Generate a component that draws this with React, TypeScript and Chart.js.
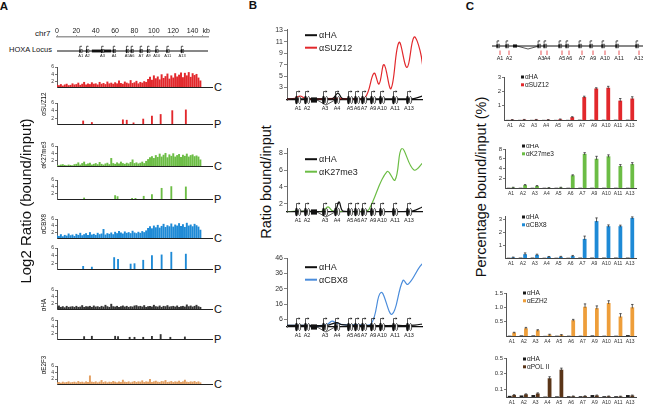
import React, { useEffect, useRef } from "react";
import { Chart, registerables } from "chart.js";
Chart.register(...registerables);

const FONT = "'Liberation Sans', Arial, Helvetica, sans-serif";

// ================= Panel A data =================
const rulerTicks = [0, 20, 40, 60, 80, 100, 120, 140, 150];
const geneNames = ["A1", "A2", "A3", "A4", "A5", "A6", "A7", "A9", "A10", "A11", "A13"];
const locusKb = [24.5, 31.4, 47, 59, 72.6, 77.5, 86.8, 94.4, 103, 114.4, 129.3];
const locusBlockKb = [[36, 56]];
const trackTicks = [2, 4, 6];
const binKb = 2; // ChIP-chip bins, one value every 2 kb from 0 kb

const suz12C = [
  1.0, 0.9, 1.2, 0.8, 1.1, 1.3, 0.9, 1.0, 1.4, 1.1,
  1.2, 1.6, 1.0, 1.3, 1.8, 1.1, 1.4, 1.2, 1.7, 1.3,
  1.4, 1.1, 1.8, 1.3, 1.5, 1.2, 1.9, 1.4, 1.6, 1.3,
  1.7, 1.4, 2.2, 1.5, 1.3, 1.9, 1.6, 1.4, 2.3, 1.5,
  1.7, 2.1, 1.4, 1.8, 1.6, 2.0, 1.8, 2.6, 3.2, 2.4,
  3.6, 2.8, 3.3, 2.5, 3.9, 2.9, 3.4, 4.1, 2.7, 3.6,
  3.0, 4.2, 3.3, 3.8, 4.4, 3.1, 4.3, 3.6, 4.5, 3.2,
  4.2, 3.7, 4.0, 3.0, 2.2,
];
const k27C = [
  0.7, 0.6, 0.8, 0.9, 0.7, 0.6, 0.8, 0.7, 0.6, 0.9,
  1.0, 1.4, 0.8, 1.2, 1.6, 0.9, 1.1, 1.3, 0.8, 1.0,
  1.2, 0.9, 1.5, 1.0, 0.8, 1.1, 1.3, 0.9, 2.6, 1.2,
  1.0, 1.4, 1.1, 1.6, 1.2, 1.0, 1.3, 1.1, 1.5, 2.2,
  1.2, 1.4, 1.1, 1.3, 1.6, 1.2, 1.8, 2.3, 2.8, 3.1,
  2.6, 3.4, 2.9, 3.8, 3.0, 3.5, 4.0, 2.8, 3.6, 3.2,
  3.9, 3.0, 3.4, 3.7, 2.9, 3.5, 3.2, 3.8, 3.0, 3.4,
  3.6, 3.1, 3.3, 3.0, 2.2,
];
const cbx8C = [
  1.2, 1.0, 1.5, 0.9, 1.3, 1.1, 1.7, 1.2, 1.4, 1.0,
  1.6, 1.3, 1.9, 1.2, 1.5, 1.8, 1.3, 2.1, 1.4, 1.6,
  1.3, 1.9, 1.5, 1.7, 3.0, 1.4, 1.8, 1.6, 2.0, 1.5,
  2.2, 1.8, 2.4, 2.0, 1.7, 2.3, 1.9, 2.1, 1.8, 2.5,
  2.0, 1.8, 2.2, 1.9, 2.4, 2.1, 2.6, 3.3, 3.8, 3.2,
  4.0, 3.5, 4.2, 3.4, 3.9, 4.5, 3.6, 4.1, 3.8, 4.6,
  3.7, 4.3, 4.0, 4.7, 3.9, 4.4, 3.6, 4.8, 4.0, 4.3,
  3.8, 4.5, 4.1, 3.7, 2.8,
];
const haC = [
  1.1, 1.4, 1.0, 1.2, 0.9, 1.3, 1.0, 1.1, 1.2, 1.0,
  1.3, 1.0, 1.1, 1.5, 1.0, 1.2, 1.1, 1.3, 1.0, 1.4,
  1.1, 1.2, 1.0, 1.3, 1.1, 1.6, 1.2, 1.0, 1.9, 1.2,
  1.1, 1.3, 1.0, 1.2, 1.4, 1.1, 1.3, 1.0, 1.2, 1.1,
  1.4, 1.5, 1.2, 1.3, 1.1, 1.5, 1.0, 1.2, 1.3, 1.1,
  1.6, 1.2, 1.1, 1.4, 1.0, 1.3, 1.2, 1.5, 1.1, 1.2,
  1.3, 1.1, 1.4, 1.0, 1.2, 1.3, 1.1, 1.7, 1.2, 1.4,
  1.1, 1.3, 1.6, 1.2, 1.0,
];
const e2f3C = [
  0.9, 1.0, 0.8, 1.1, 0.9, 1.0, 1.2, 0.9, 1.0, 1.1,
  0.9, 1.3, 1.0, 1.1, 0.9, 1.2, 1.0, 3.0, 1.1, 1.0,
  1.2, 0.9, 1.1, 1.6, 1.0, 1.2, 0.9, 1.1, 1.0, 1.3,
  1.1, 0.9, 1.2, 1.0, 1.7, 1.1, 1.0, 1.2, 0.9, 1.1,
  1.3, 1.0, 1.2, 1.1, 1.5, 1.0, 1.2, 1.1, 1.9, 1.0,
  1.2, 1.4, 1.1, 1.0, 1.3, 1.2, 1.6, 1.0, 1.1, 1.3,
  1.0, 1.2, 1.1, 1.4, 1.0, 1.2, 1.7, 1.1, 1.0, 1.2,
  1.1, 1.3, 1.0, 1.2, 0.9,
];
const suz12PKb = [27, 36, 68, 72, 79, 89, 98, 107, 119, 133];
const suz12PVal = [1.3, 0.9, 1.6, 1.5, 0.8, 1.8, 2.6, 3.0, 4.0, 4.2];
const k27PKb = [28, 60, 62.5, 77.5, 81, 89.5, 98, 108, 118, 133];
const k27PVal = [0.8, 1.5, 1.2, 0.7, 0.7, 1.3, 1.8, 3.6, 4.1, 4.0];
const cbx8PKb = [27, 36, 59, 63, 76, 80, 89, 98, 108, 118, 133];
const cbx8PVal = [1.2, 1.0, 3.5, 3.0, 1.8, 1.9, 2.8, 4.0, 4.2, 4.9, 4.4];
const haPKb = [28, 36, 60, 63, 75, 80, 89, 98, 107, 117, 132];
const haPVal = [1.2, 1.3, 1.3, 1.2, 1.0, 1.0, 1.0, 1.3, 1.8, 1.0, 1.1];

// ================= Panel B data =================
const bGenePos = [11, 20, 38, 50, 63, 70, 77, 86, 95, 108, 122];
const bA3Block = [[24, 30]];
const bA3Intron = [[30, 48]];
const b1Ticks = [3, 5, 7, 9, 11, 13];
const b2Ticks = [2, 4, 6, 8];
const b3Ticks = [6, 16, 26, 36, 46];
const suzBX = [0, 8, 13, 18, 30, 50, 65, 78, 87, 92, 97, 104, 112, 120, 127, 133, 137];
const suzBY = [1.0, 1.1, 1.5, 1.1, 1.0, 1.1, 1.0, 1.2, 5.5, 3.6, 7.0, 2.8, 10.9, 6.5, 11.8, 9.5, 5.0];
const haB1X = [0, 20, 40, 46, 51, 55, 62, 90, 120, 128, 137];
const haB1Y = [1.0, 1.0, 1.0, 1.1, 2.0, 1.1, 1.0, 1.0, 1.0, 1.1, 1.6];
const k27BX = [0, 10, 30, 36, 41, 46, 60, 78, 82, 100, 108, 115, 127, 137];
const k27BY = [1.0, 1.1, 1.0, 1.1, 1.6, 1.1, 1.0, 1.1, 1.3, 5.8, 4.8, 8.6, 6.0, 7.0];
const haB2X = [0, 20, 40, 48, 52, 56, 70, 100, 125, 137];
const haB2Y = [1.0, 1.1, 1.0, 1.1, 2.2, 1.1, 1.0, 1.0, 1.1, 1.7];
const cbxBX = [0, 20, 35, 41, 45, 50, 56, 70, 84, 94, 105, 116, 121, 133, 138];
const cbxBY = [2.0, 2.0, 2.0, 3.0, 4.8, 3.5, 2.5, 2.5, 2.8, 23.6, 9.3, 31.5, 28.9, 40.6, 44.0];
const haB3X = [0, 20, 40, 45, 50, 55, 70, 110, 128, 137];
const haB3Y = [2.0, 2.0, 2.0, 3.0, 3.8, 2.5, 2.0, 2.0, 2.2, 3.2];

// ================= Panel C data =================
const cGenePos = [8, 17, 49, 55, 70, 77, 90, 101, 113, 127, 147];
const cA3Block = [[21, 25]];
const cA3Intron = [[25, 47]];
const c1Ticks = [1, 2, 3];
const c2Ticks = [2, 4, 6, 8];
const c3Ticks = [1, 2, 3];
const c4Ticks = [0.5, 1, 1.5];
const c5Ticks = [0.1, 0.3, 0.5];
const suz12Pct = [0.02, 0.03, 0.03, 0.02, 0.05, 0.2, 1.6, 2.2, 2.25, 1.35, 1.5];
const suz12Err = [0.01, 0.01, 0.01, 0.01, 0.02, 0.03, 0.06, 0.05, 0.1, 0.15, 0.12];
const haSuz12 = [0.01, 0.01, 0.01, 0.01, 0.01, 0.01, 0.02, 0.02, 0.02, 0.02, 0.02];
const k27Pct = [0.1, 0.6, 0.4, 0.05, 0.1, 2.6, 7.0, 6.0, 6.5, 4.5, 4.9];
const k27Err = [0.05, 0.1, 0.1, 0.02, 0.05, 0.1, 0.25, 0.5, 0.3, 0.3, 0.3];
const haK27 = [0.05, 0.05, 0.05, 0.05, 0.05, 0.05, 0.05, 0.05, 0.05, 0.05, 0.05];
const cbx8Pct = [0.05, 0.3, 0.25, 0.1, 0.1, 0.15, 1.5, 2.9, 2.5, 2.5, 3.15];
const cbx8Err = [0.02, 0.1, 0.05, 0.02, 0.03, 0.05, 0.22, 0.25, 0.1, 0.08, 0.08];
const haCbx8 = [0.02, 0.03, 0.03, 0.02, 0.02, 0.02, 0.03, 0.03, 0.03, 0.03, 0.03];
const ezh2Pct = [0.12, 0.27, 0.2, 0.05, 0.04, 0.55, 1.02, 0.97, 1.15, 0.68, 1.0];
const ezh2Err = [0.01, 0.03, 0.02, 0.01, 0.01, 0.03, 0.1, 0.08, 0.08, 0.1, 0.1];
const haEzh2 = [0.01, 0.02, 0.02, 0.005, 0.01, 0.01, 0.01, 0.02, 0.01, 0.01, 0.03];
const polPct = [0.025, 0.035, 0.045, 0.24, 0.35, 0.01, 0.012, 0.02, 0.01, 0.008, 0.02];
const polErr = [0.005, 0.005, 0.008, 0.02, 0.02, 0.003, 0.003, 0.005, 0.003, 0.003, 0.005];
const haPol = [0.015, 0.02, 0.025, 0.005, 0.008, 0.01, 0.01, 0.025, 0.01, 0.01, 0.025];

// ================= colours =================
const RED = "#E2282C";
const GREEN = "#6CBD45";
const BLUE = "#1E8AD6";
const BLUE_LINE = "#4A8CDB";
const ORANGE = "#EE9E3A";
const BROWN = "#5A3518";
const E2F3COL = "#E3A063";

// ================= helpers =================
type Frame = { l: number; t: number; r: number; b: number; pl: number; pt: number; pr: number; pb: number };

function glyph(ctx: CanvasRenderingContext2D, x: number, y: number, s: number) {
  ctx.lineWidth = 0.7;
  ctx.strokeStyle = "#111";
  ctx.fillStyle = "#111";
  ctx.beginPath();
  ctx.ellipse(x - 1.5 * s, y, 1.4 * s, 4.3 * s, 0, 0, Math.PI * 2);
  ctx.fill();
  ctx.beginPath();
  ctx.ellipse(x + 1.6 * s, y, 1.1 * s, 3.6 * s, 0, 0, Math.PI * 2);
  ctx.fillStyle = "#fff";
  ctx.fill();
  ctx.stroke();
  const ax = x - 1.5 * s;
  const top = y - 8.5 * s;
  ctx.beginPath();
  ctx.moveTo(ax, y - 4 * s);
  ctx.lineTo(ax, top);
  ctx.lineTo(ax + 2.3 * s, top);
  ctx.stroke();
  ctx.beginPath();
  ctx.moveTo(ax + 3.8 * s, top);
  ctx.lineTo(ax + 2.2 * s, top - 1.3 * s);
  ctx.lineTo(ax + 2.2 * s, top + 1.3 * s);
  ctx.closePath();
  ctx.fillStyle = "#111";
  ctx.fill();
}

type GeneCfg = {
  names: string[];
  pos: number[];
  size: number;
  lineOffset?: number;
  drawLine?: boolean;
  labelDy: number;
  labelFont: number;
  blocks?: number[][];
  introns?: number[][];
  primers?: boolean;
  glyphShift?: number;
};

function genePlugin(cfg: GeneCfg) {
  return {
    id: "genes",
    afterDraw(chart: any) {
      const { ctx, chartArea: a, scales } = chart;
      const xs = scales.x;
      const y = cfg.lineOffset == null ? a.bottom : a.top + cfg.lineOffset;
      const s = cfg.size;
      ctx.save();
      if (cfg.drawLine) {
        ctx.strokeStyle = "#111";
        ctx.lineWidth = 1;
        ctx.beginPath();
        ctx.moveTo(a.left, y);
        ctx.lineTo(a.right, y);
        ctx.stroke();
      }
      (cfg.introns || []).forEach(([p0, p1]) => {
        const x0 = xs.getPixelForValue(p0);
        const x1 = xs.getPixelForValue(p1);
        ctx.strokeStyle = "#111";
        ctx.lineWidth = 0.7;
        ctx.beginPath();
        ctx.moveTo(x0, y);
        ctx.lineTo((x0 + x1) / 2, y + 5 * s);
        ctx.lineTo(x1, y);
        ctx.stroke();
      });
      (cfg.blocks || []).forEach(([p0, p1]) => {
        const x0 = xs.getPixelForValue(p0);
        const x1 = xs.getPixelForValue(p1);
        ctx.fillStyle = "#111";
        ctx.fillRect(x0, y - 2.6 * s, x1 - x0, 5.2 * s);
      });
      ctx.font = `${cfg.labelFont}px ${FONT}`;
      ctx.textAlign = "center";
      ctx.textBaseline = "top";
      cfg.pos.forEach((p, i) => {
        const x = xs.getPixelForValue(p);
        glyph(ctx, x + (cfg.glyphShift || 0), y, s);
        if (cfg.primers) {
          ctx.strokeStyle = RED;
          ctx.lineWidth = 0.8;
          ctx.beginPath();
          ctx.moveTo(x, y + 4.5);
          ctx.lineTo(x, y + 9);
          ctx.stroke();
        }
        ctx.fillStyle = "#222";
        ctx.fillText(cfg.names[i], x, y + cfg.labelDy);
      });
      ctx.restore();
    },
  };
}

type LegCfg = { dx: number; dy: number; rowH: number; font: number; kind: "line" | "box"; sw: number; gap: number };
function legendPlugin(cfg: LegCfg) {
  return {
    id: "miniLegend",
    afterDraw(chart: any) {
      const { ctx, chartArea: a } = chart;
      ctx.save();
      ctx.font = `${cfg.font}px ${FONT}`;
      ctx.textBaseline = "middle";
      ctx.textAlign = "left";
      chart.data.datasets.forEach((ds: any, i: number) => {
        const y = a.top + cfg.dy + i * cfg.rowH;
        const x = a.left + cfg.dx;
        if (cfg.kind === "line") {
          ctx.strokeStyle = ds.borderColor;
          ctx.lineWidth = 2;
          ctx.beginPath();
          ctx.moveTo(x, y);
          ctx.lineTo(x + cfg.sw, y);
          ctx.stroke();
        } else {
          ctx.fillStyle = ds.backgroundColor;
          ctx.fillRect(x, y - cfg.sw / 2, cfg.sw, cfg.sw);
        }
        ctx.fillStyle = "#222";
        ctx.fillText(ds.label, x + cfg.sw + cfg.gap, y + 0.5);
      });
      ctx.restore();
    },
  };
}

const errorBars = {
  id: "errorBars",
  afterDatasetsDraw(chart: any) {
    const ctx = chart.ctx;
    const ys = chart.scales.y;
    chart.data.datasets.forEach((ds: any, di: number) => {
      const errs: number[] | undefined = ds.errors;
      if (!errs) return;
      const meta = chart.getDatasetMeta(di);
      meta.data.forEach((bar: any, i: number) => {
        const v = ds.data[i];
        const e = errs[i];
        const x = bar.x;
        const yTop = ys.getPixelForValue(v + e);
        const yMid = ys.getPixelForValue(v);
        ctx.save();
        ctx.strokeStyle = "#333";
        ctx.lineWidth = 0.8;
        ctx.beginPath();
        ctx.moveTo(x, yMid + 1);
        ctx.lineTo(x, yTop);
        ctx.moveTo(x - 1.2, yTop);
        ctx.lineTo(x + 1.2, yTop);
        ctx.stroke();
        ctx.restore();
      });
    });
  },
};

function baseOpts(pad: { left: number; top: number; right: number; bottom: number }) {
  return {
    responsive: false,
    maintainAspectRatio: false,
    animation: false,
    events: [],
    layout: { padding: pad },
    plugins: { legend: { display: false }, tooltip: { enabled: false }, title: { display: false } },
  };
}

function yAxis(f: Frame, min: number, max: number, ticks: number[], font: number, tickLen: number, col: string) {
  return {
    type: "linear",
    min,
    max,
    afterBuildTicks: (s: any) => {
      s.ticks = ticks.map((v) => ({ value: v }));
    },
    ticks: { font: { size: font, family: FONT }, color: "#333", padding: 1, autoSkip: false },
    grid: { display: true, drawOnChartArea: false, drawTicks: true, tickLength: tickLen, color: col, lineWidth: 0.8 },
    border: { display: true, color: col, width: 1 },
    afterFit: (s: any) => {
      s.width = f.pl;
    },
  };
}

function ChartBox({ f, make }: { f: Frame; make: () => any }) {
  const ref = useRef<HTMLCanvasElement>(null);
  useEffect(() => {
    const ch = new Chart(ref.current as HTMLCanvasElement, make());
    return () => ch.destroy();
  }, []);
  const w = f.r - f.l + f.pl + f.pr;
  const h = f.b - f.t + f.pt + f.pb;
  return (
    <div style={{ position: "absolute", left: f.l - f.pl, top: f.t - f.pt, width: w, height: h }}>
      <canvas ref={ref} width={w} height={h} style={{ width: w, height: h, display: "block" }} />
    </div>
  );
}

function Label(props: { x: number; y: number; size: number; children: any; bold?: boolean; rot?: boolean; left?: boolean }) {
  const tx = props.left ? "0" : "-50%";
  return (
    <div
      style={{
        position: "absolute",
        left: props.x,
        top: props.y,
        transform: `translate(${tx},-50%)${props.rot ? " rotate(-90deg)" : ""}`,
        fontSize: props.size,
        fontWeight: props.bold ? 700 : 400,
        whiteSpace: "nowrap",
        lineHeight: 1,
        fontFamily: FONT,
        color: "#111",
      }}
    >
      {props.children}
    </div>
  );
}

// ================= Panel A charts =================
function rulerConfig(f: Frame) {
  return {
    type: "scatter",
    data: { datasets: [{ data: [] }] },
    plugins: [
      genePlugin({
        names: geneNames,
        pos: locusKb,
        size: 0.55,
        lineOffset: 14,
        drawLine: true,
        labelDy: 3,
        labelFont: 4,
        blocks: locusBlockKb,
      }),
    ],
    options: {
      ...baseOpts({ left: f.pl, top: 0, right: f.pr, bottom: f.pb }),
      scales: {
        x: {
          type: "linear",
          position: "top",
          min: 0,
          max: 156,
          afterBuildTicks: (s: any) => {
            s.ticks = rulerTicks.map((v) => ({ value: v }));
          },
          ticks: {
            font: { size: 7, family: FONT },
            color: "#222",
            padding: 0,
            maxRotation: 0,
            autoSkip: false,
            callback: (v: any) => (v === 150 ? "    kb" : String(v)),
          },
          grid: { display: true, drawOnChartArea: false, tickLength: 2, color: "#999" },
          border: { display: true, color: "#9a9a9a", width: 1.5 },
          afterFit: (s: any) => {
            s.height = f.pt;
          },
        },
        y: { display: false, min: 0, max: 1 },
      },
    },
  };
}

function trackConfig(points: { x: number; y: number }[], color: string, thick: number, f: Frame) {
  return {
    type: "bar",
    data: {
      datasets: [{ data: points, backgroundColor: color, borderWidth: 0, barThickness: thick }],
    },
    options: {
      ...baseOpts({ left: 0, top: f.pt, right: f.pr, bottom: 0 }),
      scales: {
        x: {
          type: "linear",
          min: 0,
          max: 160,
          offset: false,
          grid: { display: false, drawTicks: false, offset: false },
          ticks: { display: false },
          border: { display: true, color: "#222", width: 1 },
          afterFit: (s: any) => {
            s.height = f.pb;
          },
        },
        y: yAxis(f, 0.5, 6, trackTicks, 5, 2, "#555"),
      },
    },
  };
}

// ================= Panel B charts =================
function bConfig(
  series: { label: string; color: string; x: number[]; y: number[] }[],
  min: number,
  max: number,
  ticks: number[],
  f: Frame,
  legDy: number
) {
  return {
    type: "line",
    data: {
      datasets: series.map((s) => ({
        label: s.label,
        data: s.x.map((x, i) => ({ x, y: s.y[i] })),
        borderColor: s.color,
        borderWidth: 1.2,
        pointRadius: 0,
        tension: 0.4,
        fill: false,
      })),
    },
    plugins: [
      genePlugin({
        names: geneNames,
        pos: bGenePos,
        size: 1,
        labelDy: 6,
        labelFont: 5.5,
        blocks: bA3Block,
        introns: bA3Intron,
      }),
      legendPlugin({ dx: 18, dy: legDy, rowH: 12.5, font: 9, kind: "line", sw: 12, gap: 2 }),
    ],
    options: {
      ...baseOpts({ left: 0, top: f.pt, right: f.pr, bottom: 0 }),
      scales: {
        x: {
          type: "linear",
          min: 0,
          max: 135,
          grid: { display: false, drawTicks: false },
          ticks: { display: false },
          border: { display: true, color: "#111", width: 1.2 },
          afterFit: (s: any) => {
            s.height = f.pb;
          },
        },
        y: yAxis(f, min, max, ticks, 7, 3, "#666"),
      },
    },
  };
}

// ================= Panel C charts =================
function cHeaderConfig() {
  return {
    type: "scatter",
    data: { datasets: [{ data: [] }] },
    plugins: [
      genePlugin({
        names: geneNames,
        pos: cGenePos,
        size: 0.6,
        lineOffset: 10,
        drawLine: true,
        labelDy: 10,
        labelFont: 5.5,
        blocks: cA3Block,
        introns: cA3Intron,
        primers: true,
        glyphShift: -2,
      }),
    ],
    options: {
      ...baseOpts({ left: 0, top: 0, right: 0, bottom: 0 }),
      scales: { x: { display: false, type: "linear", min: 0, max: 151 }, y: { display: false, min: 0, max: 1 } },
    },
  };
}

function cConfig(
  target: { label: string; color: string; vals: number[]; errs: number[] },
  ha: number[],
  max: number,
  ticks: number[],
  f: Frame,
  legDy: number
) {
  return {
    type: "bar",
    data: {
      labels: geneNames,
      datasets: [
        { label: "αHA", data: ha, backgroundColor: "#1a1a1a", borderWidth: 0 },
        { label: target.label, data: target.vals, backgroundColor: target.color, borderWidth: 0, errors: target.errs },
      ],
    },
    plugins: [errorBars, legendPlugin({ dx: 17, dy: legDy, rowH: 7.8, font: 6.5, kind: "box", sw: 3, gap: 1 })],
    options: {
      ...baseOpts({ left: 0, top: f.pt, right: f.pr, bottom: 0 }),
      datasets: { bar: { categoryPercentage: 0.75, barPercentage: 0.85 } },
      scales: {
        x: {
          type: "category",
          offset: true,
          grid: { display: false, drawTicks: false },
          ticks: { font: { size: 5, family: FONT }, color: "#333", padding: 3, maxRotation: 0, autoSkip: false },
          border: { display: true, color: "#444", width: 1 },
          afterFit: (s: any) => {
            s.height = f.pb;
          },
        },
        y: yAxis(f, 0, max, ticks, 6, 2, "#555"),
      },
    },
  };
}

// ================= layout =================
const rulerFrame: Frame = { l: 57, t: 37, r: 208, b: 62, pl: 4, pt: 17, pr: 10, pb: 0 };
const tf = (t: number, b: number): Frame => ({ l: 57, t, r: 212, b, pl: 16, pt: 5, pr: 2, pb: 1 });

const aTracks = [
  { kind: "C", vals: suz12C, color: RED, f: tf(67, 90) },
  { kind: "P", kb: suz12PKb, vals: suz12PVal, color: RED, f: tf(103, 127) },
  { kind: "C", vals: k27C, color: GREEN, f: tf(146, 169) },
  { kind: "P", kb: k27PKb, vals: k27PVal, color: GREEN, f: tf(180, 202) },
  { kind: "C", vals: cbx8C, color: BLUE, f: tf(219, 241) },
  { kind: "P", kb: cbx8PKb, vals: cbx8PVal, color: BLUE, f: tf(248, 272) },
  { kind: "C", vals: haC, color: "#333", f: tf(290, 312) },
  { kind: "P", kb: haPKb, vals: haPVal, color: "#333", f: tf(320, 342) },
  { kind: "C", vals: e2f3C, color: E2F3COL, f: tf(366, 387) },
];

const bf = (t: number, b: number): Frame => ({ l: 287, t, r: 422, b, pl: 18, pt: 5, pr: 2, pb: 14 });
const cHeadFrame: Frame = { l: 492, t: 36, r: 643, b: 64, pl: 0, pt: 0, pr: 0, pb: 0 };
const cf = (l: number, t: number, b: number): Frame => ({ l, t, r: 636, b, pl: 14, pt: 5, pr: 7, pb: 9 });

export default function App() {
  return (
    <div
      style={{
        position: "absolute",
        left: 0,
        top: 0,
        width: 648,
        height: 404,
        background: "#fff",
        overflow: "hidden",
        fontFamily: FONT,
      }}
    >
      {/* Panel A */}
      <Label x={4} y={7} size={11.5} bold>A</Label>
      <Label x={35} y={33.5} size={8} left>chr7</Label>
      <Label x={9} y={50} size={7.5} left>HOXA Locus</Label>
      <ChartBox f={rulerFrame} make={() => rulerConfig(rulerFrame)} />
      {aTracks.map((tr, i) => {
        const pts =
          tr.kind === "C"
            ? tr.vals.map((v, j) => ({ x: j * binKb, y: v }))
            : (tr.kb as number[]).map((k, j) => ({ x: k, y: tr.vals[j] }));
        return (
          <React.Fragment key={i}>
            <ChartBox f={tr.f} make={() => trackConfig(pts, tr.color, tr.kind === "C" ? 1.3 : 1.2, tr.f)} />
            <Label x={214} y={tr.f.b - 3.5} size={11} left>{tr.kind}</Label>
          </React.Fragment>
        );
      })}
      <Label x={44} y={104} size={6.3} rot>αSUZ12</Label>
      <Label x={44} y={155} size={6.3} rot>αK27me3</Label>
      <Label x={44} y={224} size={6.3} rot>αCBX8</Label>
      <Label x={44} y={305} size={6.3} rot>αHA</Label>
      <Label x={44} y={365} size={6.3} rot>αE2F3</Label>
      <Label x={25} y={201} size={15} rot>Log2 Ratio (bound/input)</Label>

      {/* Panel B */}
      <Label x={253} y={6} size={11.5} bold>B</Label>
      <Label x={266} y={182} size={14.5} rot>Ratio bound/input</Label>
      <ChartBox
        f={bf(29, 100)}
        make={() =>
          bConfig(
            [
              { label: "αHA", color: "#111", x: haB1X, y: haB1Y },
              { label: "αSUZ12", color: RED, x: suzBX, y: suzBY },
            ],
            0.8,
            13.2,
            b1Ticks,
            bf(29, 100),
            6
          )
        }
      />
      <ChartBox
        f={bf(148, 212)}
        make={() =>
          bConfig(
            [
              { label: "αHA", color: "#111", x: haB2X, y: haB2Y },
              { label: "αK27me3", color: GREEN, x: k27BX, y: k27BY },
            ],
            1,
            8.6,
            b2Ticks,
            bf(148, 212),
            11
          )
        }
      />
      <ChartBox
        f={bf(258, 327)}
        make={() =>
          bConfig(
            [
              { label: "αHA", color: "#111", x: haB3X, y: haB3Y },
              { label: "αCBX8", color: BLUE_LINE, x: cbxBX, y: cbxBY },
            ],
            1,
            46,
            b3Ticks,
            bf(258, 327),
            9
          )
        }
      />

      {/* Panel C */}
      <Label x={470} y={7} size={11.5} bold>C</Label>
      <Label x={481} y={187} size={14.5} rot>Percentage bound/input (%)</Label>
      <ChartBox f={cHeadFrame} make={() => cHeaderConfig()} />
      <ChartBox
        f={cf(504, 77, 120)}
        make={() =>
          cConfig({ label: "αSUZ12", color: RED, vals: suz12Pct, errs: suz12Err }, haSuz12, 3, c1Ticks, cf(504, 77, 120), 0)
        }
      />
      <ChartBox
        f={cf(505, 149, 188)}
        make={() =>
          cConfig({ label: "αK27me3", color: GREEN, vals: k27Pct, errs: k27Err }, haK27, 8, c2Ticks, cf(505, 149, 188), -3)
        }
      />
      <ChartBox
        f={cf(505, 216, 258)}
        make={() =>
          cConfig({ label: "αCBX8", color: BLUE, vals: cbx8Pct, errs: cbx8Err }, haCbx8, 3.3, c3Ticks, cf(505, 216, 258), 1)
        }
      />
      <ChartBox
        f={cf(506, 293, 336)}
        make={() =>
          cConfig({ label: "αEZH2", color: ORANGE, vals: ezh2Pct, errs: ezh2Err }, haEzh2, 1.5, c4Ticks, cf(506, 293, 336), 0)
        }
      />
      <ChartBox
        f={cf(506, 358, 397)}
        make={() =>
          cConfig({ label: "αPOL II", color: BROWN, vals: polPct, errs: polErr }, haPol, 0.5, c5Ticks, cf(506, 358, 397), 1)
        }
      />
    </div>
  );
}
